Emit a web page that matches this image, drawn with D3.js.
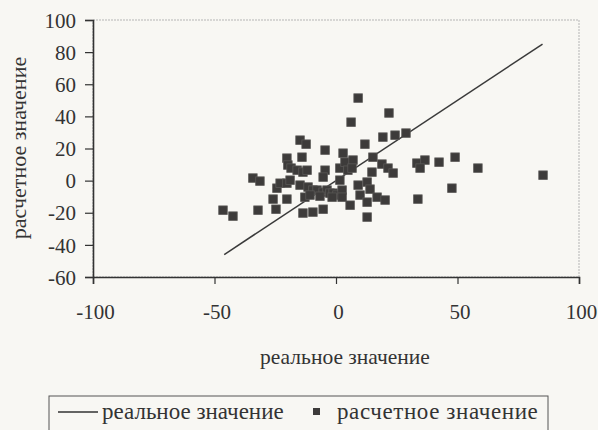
<!DOCTYPE html>
<html>
<head>
<meta charset="utf-8">
<script src="https://cdn.jsdelivr.net/npm/d3@7"></script>
<style>
  html, body { margin: 0; padding: 0; background: #f8f7f3; }
  svg { display: block; font-family: "Liberation Serif", "DejaVu Serif", serif; }
</style>
</head>
<body>
<div id="chart"></div>
<script>
const realValues = [
  -46.5, -42.4, -34.2, -31.3, -32.1, -24.7, -25.9, -20.2, -24.3, -23.0,
  -20.2, -18.9, -14.8, -20.2, -19.8, -18.5, -14.8, -12.3, -14.0, -16.0,
  -13.6, -11.9, -11.5, -9.5, -7.8, -5.3, -3.7, -2.5, -1.2, 0.4,
  2.5, -12.8, -10.7, -6.6, -1.6, 2.5, -13.6, -9.5, -5.3, -4.5,
  -4.5, -5.3, 1.6, 2.9, 3.7, 7.0, 4.9, 6.6, 1.6, 9.1,
  6.2, 21.8, 11.9, 19.3, 24.3, 28.8, 15.2, 18.9, 21.4, 23.5,
  14.8, 9.1, 12.8, 14.0, 16.9, 20.2, 9.9, 12.8, 5.8, 12.8,
  33.3, 36.6, 34.6, 42.4, 49.0, 58.4, 85.2, 47.7, 33.7
];
const estimatedValues = [
  -18.4, -22.1, 1.6, -0.3, -18.4, -17.8, -11.5, -11.5, -4.7, -1.6,
  -1.6, 0.3, -2.8, 14.0, 9.7, 7.8, 25.2, 22.7, 14.6, 6.5,
  5.3, 6.5, -4.0, -5.9, -5.9, -7.2, -5.9, -7.8, -7.8, -9.0,
  -5.9, -10.3, -9.0, -9.7, -10.3, -10.3, -20.2, -19.6, -17.8, 19.0,
  6.5, 2.2, 7.8, 17.1, 11.5, 12.8, 6.5, 7.8, 0.3, 51.4,
  36.4, 42.1, 22.7, 27.1, 28.3, 29.6, 14.6, 10.3, 7.8, 4.7,
  5.3, -2.8, -0.9, -5.3, -10.3, -12.1, -9.0, -13.4, -15.3, -22.7,
  10.9, 12.8, 7.8, 11.5, 14.6, 7.8, 3.4, -4.7, -11.5
];
// the "real value" line y = x
const lineRange = [-46, 85];
const xTicks = [-100, -50, 0, 50, 100];
const yTicks = [-60, -40, -20, 0, 20, 40, 60, 80, 100];

const points = realValues.map((v, i) => ({ x: v, y: estimatedValues[i] }));

const W = 598, H = 430;
const margin = { top: 20, right: 19, bottom: 153, left: 93 };
const w = W - margin.left - margin.right;
const h = H - margin.top - margin.bottom;
const ink = "#333";
const fmt = d => String(d); // plain hyphen, like the original

const svg = d3.select("#chart").append("svg")
  .attr("width", W).attr("height", H);

const g = svg.append("g").attr("transform", `translate(${margin.left},${margin.top})`);

const x = d3.scaleLinear().domain([-100, 100]).range([0, w]);
const y = d3.scaleLinear().domain([-60, 100]).range([h, 0]);

// plot area border (faint, dotted on top/right)
g.append("rect")
  .attr("width", w).attr("height", h)
  .attr("fill", "none")
  .attr("stroke", "#b5b5b5")
  .attr("stroke-dasharray", "2,1");

// axes
const xAxis = g.append("g").attr("transform", `translate(0,${h})`)
  .call(d3.axisBottom(x).tickValues(xTicks).tickSize(7).tickFormat(fmt));
const yAxis = g.append("g")
  .call(d3.axisLeft(y).tickValues(yTicks).tickSize(8).tickFormat(fmt));

[xAxis, yAxis].forEach(a => {
  a.select(".domain").attr("stroke", ink).attr("stroke-width", 1.6);
  a.selectAll(".tick line").attr("stroke", ink).attr("stroke-width", 1.2);
  a.selectAll("text").attr("fill", ink).style("font-size", "21px")
    .style("font-family", "'Liberation Serif', serif");
});
xAxis.selectAll("text").attr("dy", "1.5em").attr("dx", "2px");
yAxis.selectAll("text").attr("x", -17).attr("dy", "0.34em");

// y = x reference line
g.append("line")
  .attr("x1", x(lineRange[0])).attr("y1", y(lineRange[0]))
  .attr("x2", x(lineRange[1])).attr("y2", y(lineRange[1]))
  .attr("stroke", "#3a3a3a").attr("stroke-width", 1.5);

// estimated values
const s = 8.5;
g.selectAll("rect.pt").data(points).join("rect")
  .attr("class", "pt")
  .attr("x", d => x(d.x) - s / 2)
  .attr("y", d => y(d.y) - s / 2)
  .attr("width", s).attr("height", s)
  .attr("fill", "#3d3b3a")
  .attr("stroke", "#5a5856").attr("stroke-width", 0.8);

// axis titles
svg.append("text")
  .attr("x", 345).attr("y", 364)
  .attr("text-anchor", "middle")
  .attr("fill", ink).style("font-size", "21.5px")
  .text("реальное значение");

svg.append("text")
  .attr("transform", "translate(26,148) rotate(-90)")
  .attr("text-anchor", "middle")
  .attr("fill", ink).style("font-size", "22px")
  .text("расчетное значение");

// legend
const lg = svg.append("g");
lg.append("rect")
  .attr("x", 49).attr("y", 396).attr("width", 499).attr("height", 40)
  .attr("fill", "none").attr("stroke", "#555").attr("stroke-width", 1);
lg.append("line")
  .attr("x1", 58).attr("x2", 98).attr("y1", 412).attr("y2", 412)
  .attr("stroke", ink).attr("stroke-width", 1.4);
lg.append("text")
  .attr("x", 102).attr("y", 419)
  .attr("fill", ink).style("font-size", "23px")
  .text("реальное значение");
lg.append("rect")
  .attr("x", 313).attr("y", 408).attr("width", 7).attr("height", 7)
  .attr("fill", "#3d3b3a");
lg.append("text")
  .attr("x", 337).attr("y", 419)
  .attr("fill", ink).style("font-size", "23px")
  .style("letter-spacing", "0.6px")
  .text("расчетное значение");
</script>
</body>
</html>
